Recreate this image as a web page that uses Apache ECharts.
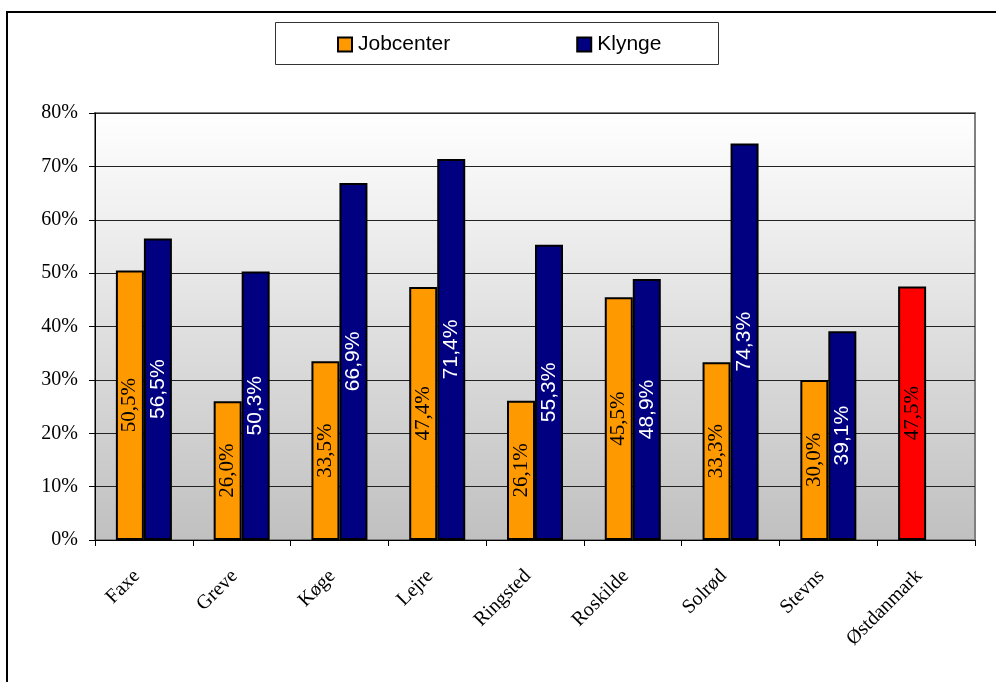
<!DOCTYPE html>
<html><head><meta charset="utf-8">
<script src="https://cdn.jsdelivr.net/npm/echarts@6/dist/echarts.min.js"></script>
<style>html,body{margin:0;padding:0;background:#fff}#c{width:996px;height:682px}</style>
</head><body><div id="c"></div>
<script>
var categories = ['Faxe','Greve','Køge','Lejre','Ringsted','Roskilde','Solrød','Stevns','Østdanmark'];
var jobcenter = [50.5, 26.0, 33.5, 47.4, 26.1, 45.5, 33.3, 30.0, 47.5];
var klynge = [56.5, 50.3, 66.9, 71.4, 55.3, 48.9, 74.3, 39.1, null];
var yTicks = [0,10,20,30,40,50,60,70,80];

var fmt = function(p){ return p.value == null ? '' : p.value.toFixed(1).replace('.', ',') + '%'; };
var jobData = jobcenter.map(function(v, i){
  if (i === categories.length - 1) return {value: v, itemStyle: {color: '#ff0000'}};
  return v;
});

var chart = echarts.init(document.getElementById('c'));
chart.setOption({
  animation: false,
  graphic: [
    {type:'rect', shape:{x:7, y:12, width:1300, height:1000}, style:{fill:'none', stroke:'#000', lineWidth:2}, z:-10},
    {type:'rect', shape:{x:275.5, y:22.5, width:443, height:42}, style:{fill:'#fff', stroke:'#333', lineWidth:1}, z:-5}
  ],
  legend: {
    left: 337, top: 34, padding: 0, itemWidth: 14, itemHeight: 14, itemGap: 126,
    icon: 'rect',
    textStyle: {fontFamily: 'Liberation Sans, Arial', fontSize: 21, color: '#000', padding:[0,0,0,1]},
    data: ['Jobcenter', 'Klynge']
  },
  grid: {
    left: 95, right: 21, top: 113, bottom: 142, show: true,
    borderColor: '#808080', borderWidth: 2,
    backgroundColor: new echarts.graphic.LinearGradient(0,0,0,1,[{offset:0,color:'#ffffff'},{offset:1,color:'#c0c0c0'}])
  },
  xAxis: {
    type: 'category', data: categories,
    axisLine: {lineStyle: {color: '#000', width: 1}},
    axisTick: {show: true, length: 6, lineStyle: {color: '#000'}},
    axisLabel: {rotate: 45, margin: 26, padding: [0, 10, 0, 0], fontFamily: 'Liberation Serif, Times New Roman', fontSize: 20, color: '#000', interval: 0}
  },
  yAxis: {
    type: 'value', min: 0, max: 80, interval: 10,
    axisLine: {show: true, lineStyle: {color: '#000', width: 1}},
    axisTick: {show: true, length: 6, lineStyle: {color: '#000'}},
    splitLine: {lineStyle: {color: '#222', width: 1}},
    axisLabel: {formatter: '{value}%', margin: 17, fontFamily: 'Liberation Serif, Times New Roman', fontSize: 20, color: '#000'}
  },
  series: [
    {
      name: 'Jobcenter', type: 'bar', data: jobData, barWidth: 28, barGap: '0%',
      itemStyle: {color: '#ff9900', borderColor: '#000', borderWidth: 2},
      label: {show: true, position: 'inside', rotate: 90, formatter: fmt,
        fontFamily: 'Liberation Serif, Times New Roman', fontSize: 21, color: '#000'}
    },
    {
      name: 'Klynge', type: 'bar', data: klynge, barWidth: 28,
      itemStyle: {color: '#000080', borderColor: '#000', borderWidth: 2},
      label: {show: true, position: 'inside', rotate: 90, formatter: fmt,
        fontFamily: 'Liberation Sans, Arial', fontSize: 21, color: '#fff'}
    }
  ]
});
</script></body></html>
